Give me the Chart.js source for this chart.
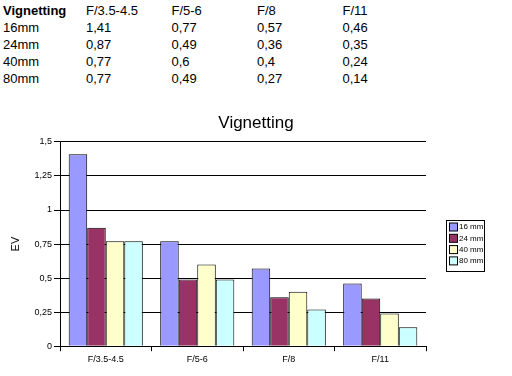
<!DOCTYPE html>
<html>
<head>
<meta charset="utf-8">
<script src="https://cdn.jsdelivr.net/npm/chart.js@4.4.1/dist/chart.umd.min.js"></script>
<style>
  html, body { margin: 0; padding: 0; background: #fff; }
  body { width: 512px; height: 376px; position: relative; overflow: hidden; font-family: "Liberation Sans", Arial, sans-serif; }
  #tbl { position: absolute; left: 3px; top: 2px; border-collapse: collapse; font-size: 13px; color: #000; }
  #tbl td { padding: 0; height: 17px; line-height: 17px; white-space: nowrap; }
  #tbl td.c0 { width: 83px; }
  #tbl td.cn { width: 85.5px; }
  #wrap { position: absolute; left: 0; top: 100px; width: 512px; height: 276px; }
</style>
</head>
<body>
<table id="tbl"></table>
<div id="wrap"><canvas id="vigChart"></canvas></div>
<script>
// ---- data ----
const apertures = ['F/3.5-4.5', 'F/5-6', 'F/8', 'F/11'];
const lenses = ['16 mm', '24 mm', '40 mm', '80 mm'];
const tableLenses = ['16mm', '24mm', '40mm', '80mm'];
const ev16 = [1.41, 0.77, 0.57, 0.46];
const ev24 = [0.87, 0.49, 0.36, 0.35];
const ev40 = [0.77, 0.6, 0.4, 0.24];
const ev80 = [0.77, 0.49, 0.27, 0.14];
const yTicks = [0, 0.25, 0.5, 0.75, 1, 1.25, 1.5];

const colors = ['#9999FF', '#993366', '#FFFFCC', '#CCFFFF'];
const series = [ev16, ev24, ev40, ev80];

const commaNum = v => String(v).replace('.', ',');

// ---- table on top ----
const tbl = document.getElementById('tbl');
let head = '<tr><td class="c0"><b>Vignetting</b></td>';
apertures.forEach(a => { head += '<td class="cn">' + a + '</td>'; });
tbl.innerHTML = head + '</tr>' + tableLenses.map((l, i) =>
  '<tr><td class="c0">' + l + '</td>' +
  series[i].map(v => '<td class="cn">' + commaNum(v) + '</td>').join('') + '</tr>'
).join('');

// ---- boxed legend, drawn to the right of the plot ----
const boxLegend = {
  id: 'boxLegend',
  afterDraw(chart) {
    const c = chart.ctx;
    const x = chart.chartArea.right + 20;
    const y = 120;
    const w = 38, h = 51;
    c.save();
    c.strokeStyle = '#000';
    c.lineWidth = 1;
    c.strokeRect(x + 0.5, y + 0.5, w, h);
    c.font = '8px "Liberation Sans", Arial, sans-serif';
    c.textBaseline = 'middle';
    chart.data.datasets.forEach((ds, i) => {
      const iy = y + 7 + i * 11.3;
      c.fillStyle = ds.backgroundColor;
      c.fillRect(x + 3.5, iy - 4, 8, 8);
      c.strokeRect(x + 3.5, iy - 4, 8, 8);
      c.fillStyle = '#000';
      c.fillText(ds.label, x + 13, iy);
    });
    c.restore();
  }
};

const font = (size) => ({ family: '"Liberation Sans", Arial, sans-serif', size: size, weight: 'normal' });

const ctx = document.getElementById('vigChart').getContext('2d');
const vigChart = new Chart(ctx, {
  type: 'bar',
  data: {
    labels: apertures,
    datasets: lenses.map((l, i) => ({
      label: l,
      data: series[i],
      backgroundColor: colors[i],
      borderColor: '#000',
      borderWidth: 1,
      categoryPercentage: 0.81,
      barPercentage: 1.0
    }))
  },
  options: {
    responsive: true,
    maintainAspectRatio: false,
    animation: false,
    layout: { padding: { left: 0, right: 0, top: 0, bottom: 8 } },
    plugins: {
      legend: { display: false },
      tooltip: { enabled: false },
      title: {
        display: true,
        text: 'Vignetting',
        color: '#000',
        font: font(17),
        padding: { top: 13, bottom: 8.5 }
      }
    },
    scales: {
      x: {
        grid: { drawOnChartArea: false, color: '#000', tickLength: 5, offset: true },
        border: { display: true, color: '#000', width: 1 },
        ticks: { color: '#000', padding: 3, font: font(9) }
      },
      y: {
        min: 0,
        max: 1.5,
        afterFit(scale) { scale.width = 60; },
        afterBuildTicks(scale) { scale.ticks = yTicks.map(v => ({ value: v })); },
        grid: { color: '#000', lineWidth: 1, tickLength: 6 },
        border: { display: true, color: '#000', width: 1 },
        ticks: { color: '#000', padding: 2, font: font(9), callback: v => commaNum(v) },
        title: {
          display: true,
          text: 'EV',
          color: '#000',
          padding: { top: 9, bottom: 0 },
          font: font(11)
        }
      },
      // empty right-hand axis: only reserves room for the legend box
      yRight: {
        position: 'right',
        afterFit(scale) { scale.width = 86; },
        grid: { display: false },
        border: { display: false },
        ticks: { display: false }
      }
    }
  },
  plugins: [boxLegend]
});
</script>
</body>
</html>
